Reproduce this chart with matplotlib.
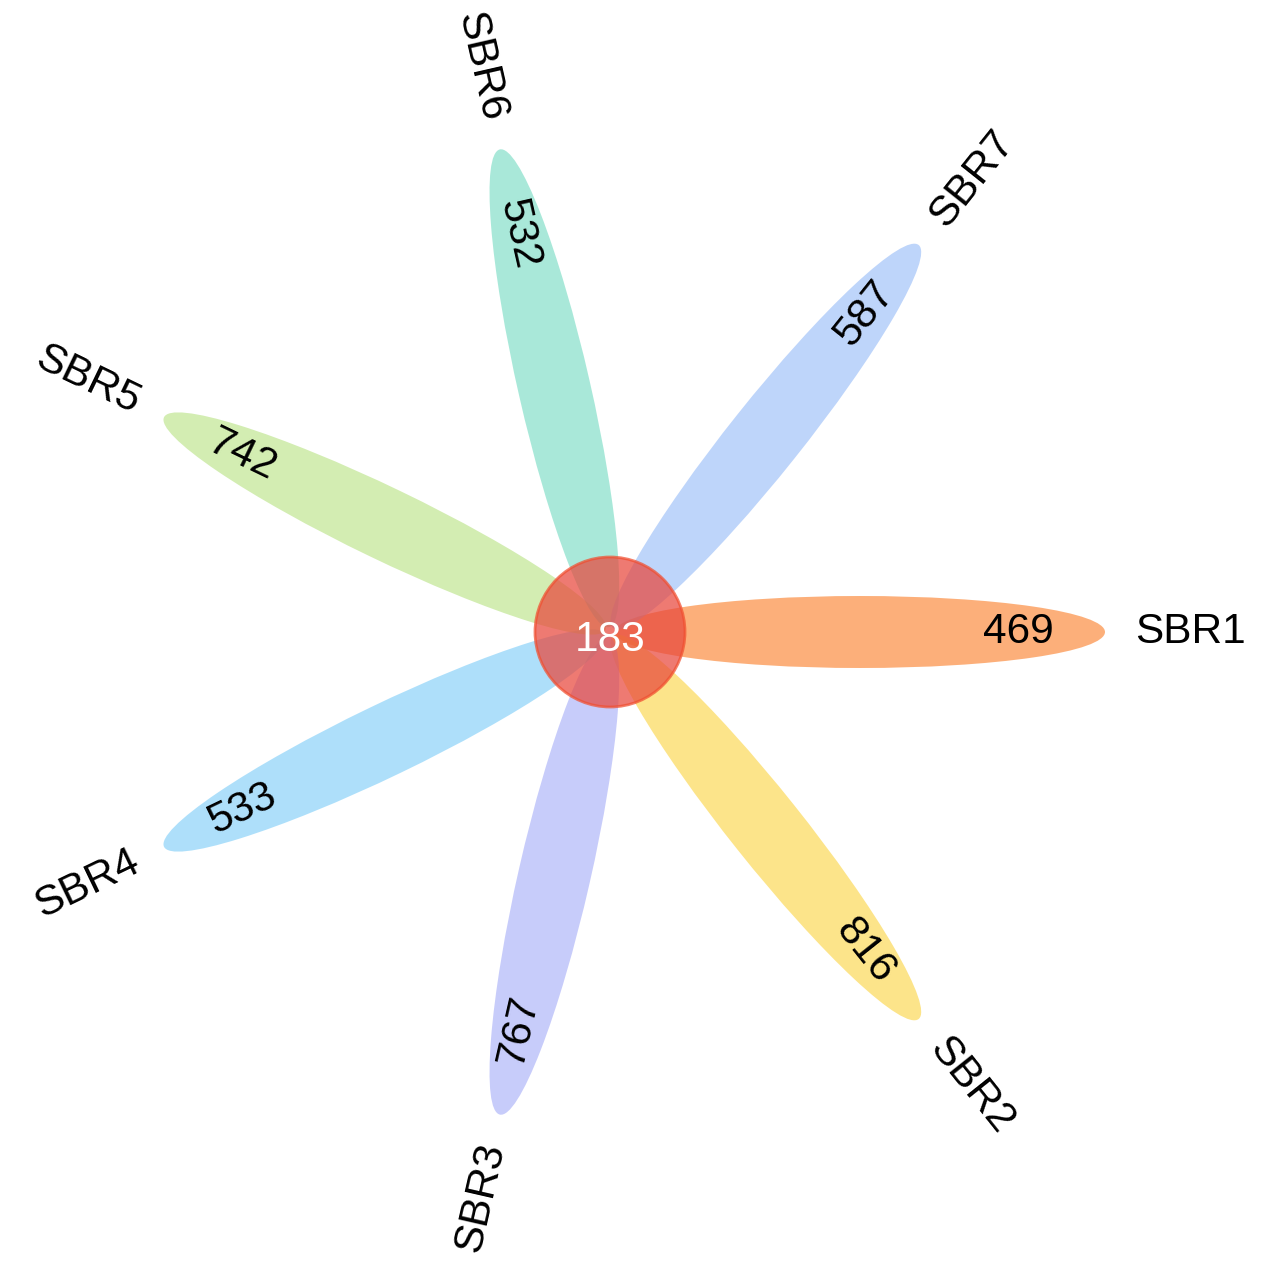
import numpy as np
import matplotlib
matplotlib.use("Agg")
import matplotlib.pyplot as plt
from matplotlib.patches import Ellipse, Circle

# Data
samples = ["SBR1", "SBR2", "SBR3", "SBR4", "SBR5", "SBR6", "SBR7"]
unique_counts = [469, 816, 767, 533, 742, 532, 587]
core_count = 183
petal_colors = ["#FB7B22", "#FBD23C", "#A3AAF7", "#78CBF8", "#B6E180", "#70DAC0", "#93B9F7"]

W, H = 1271, 1285
fig = plt.figure(figsize=(W / 100, H / 100), dpi=100)
ax = fig.add_axes([0, 0, 1, 1])
ax.set_xlim(0, W)
ax.set_ylim(0, H)
ax.set_aspect("equal")
ax.axis("off")

cx, cy = 610, H - 632
petal_dist = 250
petal_len = 490
petal_wid = 72
num_r = 408
lab_r = 580
fs = 30.5
font = "Liberation Sans"

n = len(samples)
for i, (name, cnt, col) in enumerate(zip(samples, unique_counts, petal_colors)):
    ang = -360.0 / n * i
    ang = (ang + 180) % 360 - 180
    rad = np.deg2rad(ang)
    ex, ey = cx + petal_dist * np.cos(rad), cy + petal_dist * np.sin(rad)
    ax.add_patch(Ellipse((ex, ey), petal_len, petal_wid, angle=ang,
                         facecolor=col, alpha=0.6, edgecolor="none", zorder=1))
    rot = ang
    if rot < -90:
        rot += 180
    elif rot > 90:
        rot -= 180
    ax.text(cx + num_r * np.cos(rad), cy + num_r * np.sin(rad), str(cnt),
            rotation=rot, rotation_mode="anchor", ha="center", va="center",
            fontsize=fs, family=font, color="black", zorder=3)
    ax.text(cx + lab_r * np.cos(rad), cy + lab_r * np.sin(rad), name,
            rotation=rot, rotation_mode="anchor", ha="center", va="center",
            fontsize=fs, family=font, color="black", zorder=3)

ax.add_patch(Circle((cx, cy), 75, facecolor="#E8473C", alpha=0.72,
                    edgecolor="#F04E30", linewidth=2, zorder=2))
ax.text(cx, cy - 8, str(core_count), ha="center", va="center", fontsize=fs,
        family=font, color="white", zorder=4)

fig.savefig("out.png", dpi=100, facecolor="white")
